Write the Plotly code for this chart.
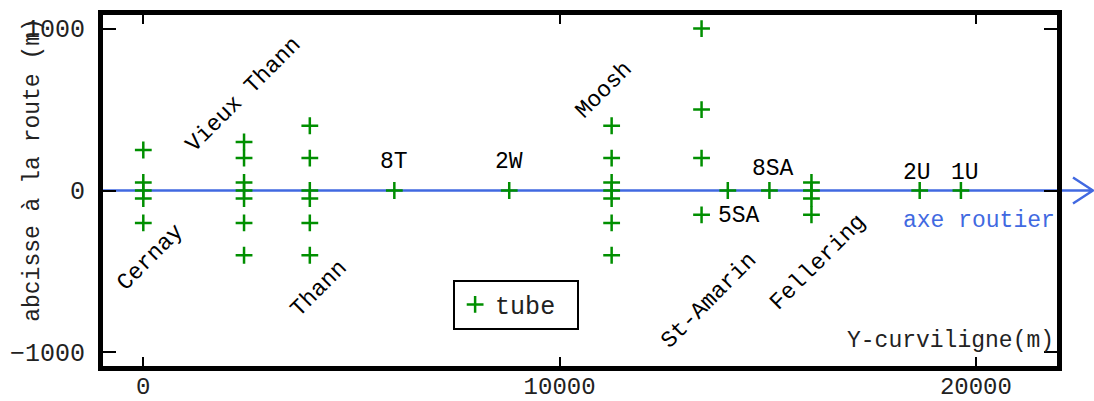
import plotly.graph_objects as go

# Tube positions: curvilinear abscissa along the road (m) and offset from the road axis (m)
tube_y_curv = [
    0, 0, 0, 0, 0,
    2420, 2420, 2420, 2420, 2420, 2420, 2420,
    4000, 4000, 4000, 4000, 4000, 4000,
    6030,
    8790,
    11250, 11250, 11250, 11250, 11250, 11250, 11250,
    13410, 13410, 13410, 13410,
    14040,
    15040,
    16050, 16050, 16050, 16050,
    18650,
    19640,
]
tube_abscisse = [
    250, 50, 0, -50, -200,
    300, 200, 50, 0, -50, -200, -400,
    400, 200, 0, -50, -200, -400,
    0,
    0,
    400, 200, 50, 0, -50, -200, -400,
    1000, 500, 200, -150,
    0,
    0,
    50, 0, -50, -150,
    0,
    0,
]

# Place names (rotated) and tube tags
town_names = ["Cernay", "Vieux Thann", "Thann", "Moosh", "St-Amarin", "Fellering"]
town_x = [161, 2411, 4225, 11083, 13584, 16195]
town_y = [-415, 588, -610, 618, -682, -447]

tag_names = ["8T", "2W", "8SA", "5SA", "2U", "1U"]
tag_x = [6027, 8792, 15121, 14314, 18578, 19731]
tag_y = [179, 179, 130, -157, 110, 110]

x_ticks = [0, 10000, 20000]
y_ticks = [-1000, 0, 1000]
x_range = [-968, 21948]
y_range = [-1084, 1084]

FONT = "Liberation Mono, Courier New, monospace"
GREEN = "#008f00"
BLUE = "#4169e1"

fig = go.Figure()

# road axis
fig.add_trace(go.Scatter(
    x=x_range, y=[0, 0], mode="lines",
    line=dict(color=BLUE, width=2.5),
    showlegend=False, hoverinfo="skip",
))

fig.add_trace(go.Scatter(
    x=tube_y_curv, y=tube_abscisse, mode="markers", name="tube",
    marker=dict(symbol="cross-thin", size=12, line=dict(color=GREEN, width=2.5)),
))

annotations = []
for name, x, y in zip(town_names, town_x, town_y):
    annotations.append(dict(x=x, y=y, xref="x", yref="y", text=name, showarrow=False,
                            textangle=-45, font=dict(family=FONT, size=23, color="black")))
for name, x, y in zip(tag_names, tag_x, tag_y):
    annotations.append(dict(x=x, y=y, xref="x", yref="y", text=name, showarrow=False,
                            font=dict(family=FONT, size=23, color="black")))

annotations.append(dict(x=20070, y=-190, xref="x", yref="y", text="axe routier",
                        showarrow=False, font=dict(family=FONT, size=23, color=BLUE)))
annotations.append(dict(x=19390, y=-930, xref="x", yref="y", text="Y-curviligne(m)",
                        showarrow=False, font=dict(family=FONT, size=23, color="#222")))
annotations.append(dict(x=-0.073, y=0.56, xref="paper", yref="paper", xanchor="center",
                        yanchor="middle", text="abcisse à la route (m)", textangle=-90,
                        showarrow=False, font=dict(family=FONT, size=23, color="#222")))

# road axis continuation beyond the frame with an open arrow head
shapes = [dict(
    type="path", xref="paper", yref="paper", xsizemode="pixel", ysizemode="pixel",
    xanchor=1, yanchor=0.5,
    path="M 0 0 L 36 0 M 16 13 L 36 0 L 16 -13",
    line=dict(color=BLUE, width=2.5), layer="below",
)]

axis_common = dict(
    showgrid=False, zeroline=False, showline=True, linecolor="black", linewidth=5,
    mirror="ticks", ticks="inside", tickcolor="black", tickwidth=2,
    tickformat="d", automargin=False,
)

fig.update_layout(
    width=1094, height=401,
    margin=dict(l=103, r=37, t=15, b=35),
    paper_bgcolor="white", plot_bgcolor="rgba(0,0,0,0)",
    xaxis=dict(range=x_range, tickvals=x_ticks, ticklen=9, ticklabelstandoff=-6,
               tickfont=dict(family=FONT, size=24, color="#222"), **axis_common),
    yaxis=dict(range=y_range, tickvals=y_ticks, ticklen=13, ticklabelstandoff=8,
               tickfont=dict(family=FONT, size=25, color="#222"), **axis_common),
    legend=dict(x=0.367, y=0.246, xanchor="left", yanchor="top", orientation="h",
                entrywidth=77, bordercolor="black", borderwidth=2, bgcolor="white",
                font=dict(family=FONT, size=25, color="#222")),
    annotations=annotations,
    shapes=shapes,
)

fig.write_html("out.html")
